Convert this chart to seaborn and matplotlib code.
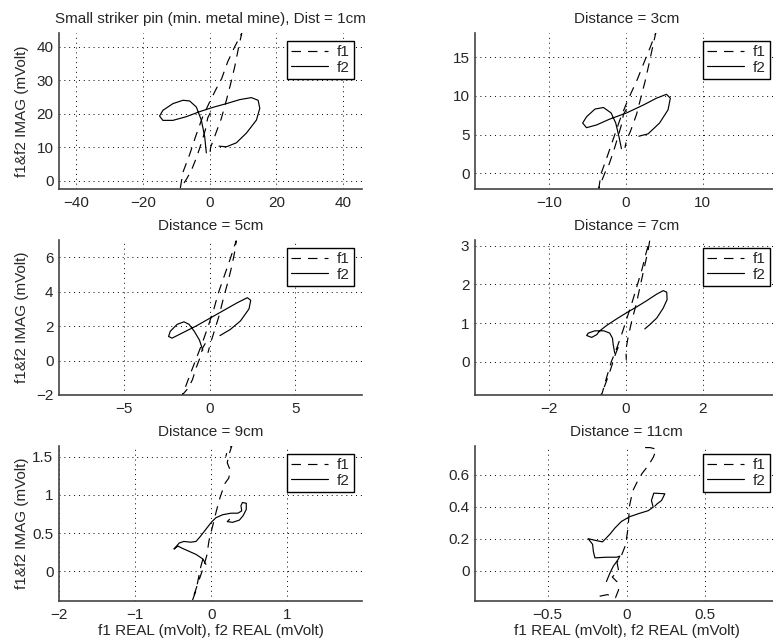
import matplotlib
matplotlib.use("Agg")
import matplotlib.pyplot as plt
import seaborn as sns

sns.set_style("white")
plt.rcParams["font.family"] = ["Liberation Sans", "DejaVu Sans"]
plt.rcParams["font.size"] = 11

# ====== Data (mVolt) ======
titles = ["Small striker pin (min. metal mine), Dist = 1cm", "Distance = 3cm",
          "Distance = 5cm", "Distance = 7cm", "Distance = 9cm", "Distance = 11cm"]

# 1 cm
f1_x_1cm = [0.2, -0.6, -1.2, -2.4, -3.9, -5.5, -6.9, -8.8, -8.0, -6.0, -4.2, -2.2, 0.0, 2.0, 3.6,
            5.4, 7.5, 9.6, 8.7, 7.5, 6.2, 5.0, 3.5, 1.5, 0.3, 0.0]
f1_y_1cm = [20.3, 18.7, 15.5, 11.5, 7.0, 3.0, 0.5, -2.4, 2.5, 7.8, 13.2, 18.8, 23.5, 27.5, 30.5,
            35.5, 40.0, 44.0, 40.0, 34.0, 28.6, 24.0, 18.6, 13.2, 10.0, 7.5]
f2_x_1cm = [-1.0, -1.5, -2.5, -4.0, -6.0, -8.0, -11.0, -14.0, -15.0, -14.0, -11.0, -7.0, -3.0, 1.0,
            5.0, 9.0, 12.5, 14.5, 15.0, 14.0, 11.0, 8.0, 5.0, 2.8]
f2_y_1cm = [8.3, 13.2, 18.1, 22.0, 23.8, 24.0, 23.0, 21.0, 19.3, 18.0, 18.0, 19.1, 20.6, 21.9,
            23.0, 24.2, 24.8, 24.0, 21.6, 18.1, 14.2, 11.3, 10.1, 10.3]

# 3 cm
f1_x_3cm = [0.1, -0.3, -0.55, -1.05, -1.6, -2.2, -2.7, -3.5, -3.2, -2.4, -1.6, -0.8, 0.0, 0.8, 1.5,
            2.3, 3.2, 3.9, 3.5, 3.0, 2.5, 2.0, 1.4, 0.6, 0.1, -0.1]
f1_y_3cm = [8.3, 7.6, 6.3, 4.6, 2.8, 1.1, 0.1, -1.9, 0.0, 2.2, 4.5, 6.8, 8.8, 10.6, 12.1,
            14.1, 16.3, 18.1, 16.3, 14.0, 11.8, 9.9, 7.6, 5.4, 4.3, 3.3]
f2_x_3cm = [-0.56, -0.87, -1.3, -1.9, -2.9, -4.0, -5.1, -5.6, -5.1, -3.8, -2.1, 0.1, 2.25, 4.0,
            5.3, 5.8, 5.5, 4.4, 2.9, 1.7]
f2_y_3cm = [3.2, 4.7, 6.5, 7.8, 8.5, 8.3, 7.3, 6.5, 5.9, 6.25, 7.0, 7.8, 8.8, 9.7,
            10.2, 9.7, 8.2, 6.5, 5.1, 4.8]

# 5 cm
f1_x_5cm = [-0.25, -0.4, -0.55, -0.78, -1.0, -1.25, -1.6, -1.4, -1.1, -0.75, -0.4, -0.05, 0.25, 0.5,
            0.85, 1.2, 1.55, 1.5, 1.3, 1.05, 0.8, 0.55, 0.3, 0.05, -0.1]
f1_y_5cm = [1.0, 0.75, 0.2, -0.4, -1.1, -1.6, -2.0, -1.5, -0.7, 0.2, 1.1, 2.1, 3.0, 3.9,
            4.9, 5.9, 6.95, 6.5, 5.5, 4.5, 3.6, 2.6, 1.8, 1.0, 0.45]
f2_x_5cm = [-0.4, -0.6, -0.9, -1.2, -1.5, -1.9, -2.3, -2.4, -2.2, -1.6, -0.8, 0.0, 0.8, 1.6,
            2.2, 2.4, 2.3, 1.8, 1.2, 0.6]
f2_y_5cm = [0.6, 1.2, 1.7, 2.1, 2.25, 2.1, 1.7, 1.4, 1.3, 1.6, 2.0, 2.45, 2.9, 3.35,
            3.65, 3.5, 3.0, 2.3, 1.8, 1.45]

# 7 cm
f1_x_7cm = [-0.2, -0.27, -0.35, -0.45, -0.55, -0.65, -0.63, -0.5, -0.38, -0.22, -0.08, 0.05, 0.18,
            0.3, 0.42, 0.52, 0.62, 0.58, 0.48, 0.38, 0.27, 0.15, 0.05, 0.0, 0.01]
f1_y_7cm = [0.38, 0.2, -0.05, -0.35, -0.62, -0.86, -0.86, -0.4, 0.0, 0.4, 0.8, 1.2, 1.6,
            2.0, 2.4, 2.8, 3.15, 2.9, 2.45, 2.0, 1.5, 1.05, 0.6, 0.3, 0.05]
f2_x_7cm = [-0.29, -0.33, -0.35, -0.42, -0.57, -0.81, -0.98, -1.02, -0.89, -0.76, -0.68, -0.5,
            -0.24, 0.02, 0.28, 0.54, 0.8, 0.97, 1.06, 1.07, 0.97, 0.8, 0.62, 0.49]
f2_y_7cm = [0.22, 0.44, 0.61, 0.74, 0.80, 0.80, 0.74, 0.68, 0.63, 0.70, 0.80, 0.94,
            1.11, 1.27, 1.42, 1.58, 1.75, 1.84, 1.80, 1.61, 1.39, 1.13, 0.96, 0.85]

# 9 cm
f1_x_9cm = [-0.11, -0.14, -0.17, -0.2, -0.25, -0.19, -0.12, -0.06, -0.03, 0.02, 0.07, 0.12, 0.18,
            0.23, 0.25, 0.21, 0.23, 0.27, 0.22, 0.19]
f1_y_9cm = [0.16, 0.05, -0.1, -0.25, -0.39, -0.2, 0.0, 0.2, 0.4, 0.6, 0.8, 0.98, 1.15,
            1.22, 1.32, 1.42, 1.52, 1.64, 1.6, 1.5]
f2_x_9cm = [-0.07, -0.11, -0.2, -0.29, -0.38, -0.44, -0.49, -0.42, -0.36, -0.27, -0.2, -0.14,
            -0.07, 0.0, 0.06, 0.15, 0.26, 0.35, 0.4, 0.39, 0.41, 0.46, 0.46, 0.42, 0.37, 0.28,
            0.21, 0.24]
f2_y_9cm = [0.09, 0.16, 0.22, 0.26, 0.30, 0.33, 0.29, 0.37, 0.39, 0.38, 0.39, 0.46,
            0.55, 0.64, 0.70, 0.74, 0.76, 0.76, 0.79, 0.86, 0.90, 0.89, 0.81, 0.73, 0.67, 0.64,
            0.65, 0.68]

# 11 cm
f1_x_11cm = [-0.17, -0.12, -0.07, -0.05, -0.06, -0.09, -0.05, -0.06, -0.03, -0.01, 0.0, 0.01,
             0.015, 0.02, 0.04, 0.07, 0.1, 0.14, 0.17, 0.19, 0.15, 0.11, 0.09]
f1_y_11cm = [-0.16, -0.15, -0.17, -0.12, -0.07, -0.04, 0.0, 0.05, 0.1, 0.15, 0.2, 0.27,
             0.34, 0.41, 0.5, 0.56, 0.61, 0.66, 0.71, 0.76, 0.77, 0.77, 0.74]
f2_x_11cm = [-0.127, -0.105, -0.084, -0.053, -0.042, -0.063, -0.127, -0.2, -0.21, -0.215, -0.243,
             -0.2, -0.152, -0.105, -0.074, -0.032, 0.021, 0.084, 0.137, 0.169, 0.158, 0.173,
             0.243, 0.222, 0.194, 0.179]
f2_y_11cm = [-0.068, -0.015, 0.027, 0.07, 0.091, 0.084, 0.084, 0.08, 0.12, 0.165, 0.2,
             0.19, 0.18, 0.228, 0.266, 0.308, 0.338, 0.359, 0.375, 0.397, 0.439, 0.485,
             0.481, 0.439, 0.418, 0.403]

f1_x = [f1_x_1cm, f1_x_3cm, f1_x_5cm, f1_x_7cm, f1_x_9cm, f1_x_11cm]
f1_y = [f1_y_1cm, f1_y_3cm, f1_y_5cm, f1_y_7cm, f1_y_9cm, f1_y_11cm]
f2_x = [f2_x_1cm, f2_x_3cm, f2_x_5cm, f2_x_7cm, f2_x_9cm, f2_x_11cm]
f2_y = [f2_y_1cm, f2_y_3cm, f2_y_5cm, f2_y_7cm, f2_y_9cm, f2_y_11cm]

x_limits = [(-45.1, 45.6), (-19.6, 19.8), (-8.8, 8.9), (-3.92, 3.95), (-2.0, 1.98), (-0.96, 0.96)]
y_limits = [(-2.5, 44.1), (-2.0, 18.1), (-2.0, 7.0), (-0.86, 3.15), (-0.39, 1.64), (-0.19, 0.78)]
x_ticks = [[-40, -20, 0, 20, 40], [-10, 0, 10], [-5, 0, 5], [-2, 0, 2], [-2, -1, 0, 1], [-0.5, 0, 0.5]]
y_ticks = [[0, 10, 20, 30, 40], [0, 5, 10, 15], [-2, 0, 2, 4, 6], [0, 1, 2, 3], [0, 0.5, 1, 1.5],
           [0, 0.2, 0.4, 0.6]]
x_ticklabels = [["−40", "−20", "0", "20", "40"], ["−10", "0", "10"], ["−5", "0", "5"], ["−2", "0", "2"],
                ["−2", "−1", "0", "1"], ["−0.5", "0", "0.5"]]
y_ticklabels = [["0", "10", "20", "30", "40"], ["0", "5", "10", "15"], ["−2", "0", "2", "4", "6"],
                ["0", "1", "2", "3"], ["0", "0.5", "1", "1.5"], ["0", "0.2", "0.4", "0.6"]]

# ====== Layout (pixel boxes: left, top, width, height) ======
W, H = 773, 644
boxes = [(59, 33, 303, 156), (475, 33, 303, 156),
         (59, 240, 303, 155), (475, 240, 303, 155),
         (59, 446, 303, 155), (475, 446, 303, 155)]

fig = plt.figure(figsize=(W / 100, H / 100), dpi=100)

for i in range(6):
    l, t, w, h = boxes[i]
    ax = fig.add_axes([l / W, 1 - (t + h) / H, w / W, h / H])

    sns.lineplot(x=f1_x[i], y=f1_y[i], sort=False, estimator=None, ax=ax,
                 color="black", lw=0.85, linestyle=(0, (8, 6)), label="f1")
    sns.lineplot(x=f2_x[i], y=f2_y[i], sort=False, estimator=None, ax=ax,
                 color="black", lw=0.85, label="f2")

    ax.set_xlim(*x_limits[i])
    ax.set_ylim(*y_limits[i])
    ax.set_xticks(x_ticks[i])
    ax.set_yticks(y_ticks[i])
    ax.set_xticklabels(x_ticklabels[i])
    ax.set_yticklabels(y_ticklabels[i])

    ax.grid(True, linestyle=(0, (1, 4)), color="black", lw=0.7)
    ax.set_axisbelow(True)
    for side in ["top", "right"]:
        ax.spines[side].set_visible(False)
    for side in ["left", "bottom"]:
        ax.spines[side].set_color("#444444")
        ax.spines[side].set_linewidth(1.2)
    ax.tick_params(direction="in", length=3, width=0.8, labelsize=11)
    ax.tick_params(axis="x", pad=5)
    ax.tick_params(axis="y", pad=4)

    ax.set_title(titles[i], fontsize=11, pad=7)

    if i % 2 == 0:
        ax.set_ylabel("f1&f2 IMAG (mVolt)", fontsize=11)
        ax.yaxis.set_label_coords(-0.1, 0.5)
    if i >= 4:
        ax.set_xlabel("f1 REAL (mVolt), f2 REAL (mVolt)", fontsize=11)
        ax.xaxis.set_label_coords(0.5, -0.15)

    leg = ax.legend(loc="upper right", frameon=True, fancybox=False, edgecolor="black",
                    framealpha=1, borderaxespad=0.55, handlelength=2.4, borderpad=0.25,
                    labelspacing=0.1, handletextpad=0.6, fontsize=11)
    leg.get_frame().set_linewidth(1.0)

fig.savefig("out.png", dpi=100)
